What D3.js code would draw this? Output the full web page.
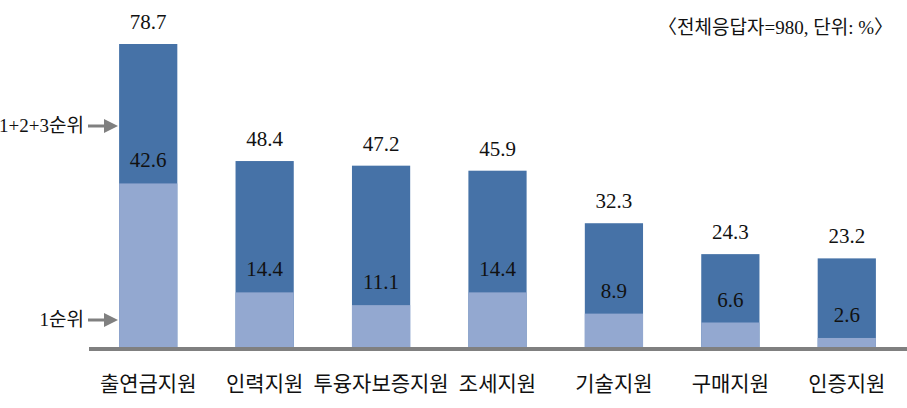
<!DOCTYPE html>
<html>
<head>
<meta charset="utf-8">
<script src="https://cdn.jsdelivr.net/npm/d3@7"></script>
<style>
  body { margin: 0; background: #fff; }
  svg { display: block; }
  .val { font-family: "Liberation Serif", "DejaVu Serif", serif; font-size: 21px; fill: #111; }
  .cat { font-family: "Noto Sans CJK KR", sans-serif; font-size: 21px; fill: #111; }
  .note { font-family: "Liberation Serif", "Noto Sans CJK KR", serif; font-size: 19px; fill: #111; }
</style>
</head>
<body>
<svg id="chart" width="907" height="408"></svg>
<script>
const categories = ['출연금지원', '인력지원', '투융자보증지원', '조세지원', '기술지원', '구매지원', '인증지원'];
const totalRank = [78.7, 48.4, 47.2, 45.9, 32.3, 24.3, 23.2];   // 1+2+3순위
const firstRank = [42.6, 14.4, 11.1, 14.4, 8.9, 6.6, 2.6];       // 1순위
const seriesLabels = ['1+2+3순위', '1순위'];

const svg = d3.select('#chart');
const baseY = 348;

const x = d3.scaleBand()
  .domain(categories)
  .range([90, 905])
  .paddingInner(0.5)
  .paddingOuter(0.25);

const y = d3.scaleLinear()
  .domain([0, 78.7])
  .range([baseY, 44]);

const rows = categories.map((c, i) => ({ cat: c, total: totalRank[i], first: firstRank[i] }));

const bars = svg.append('g')
  .selectAll('g')
  .data(rows)
  .enter()
  .append('g');

bars.append('rect')
  .attr('x', d => x(d.cat))
  .attr('y', d => y(d.total))
  .attr('width', x.bandwidth())
  .attr('height', d => baseY - y(d.total))
  .attr('fill', '#4672A7');

bars.append('rect')
  .attr('x', d => x(d.cat))
  .attr('y', d => y(d.first))
  .attr('width', x.bandwidth())
  .attr('height', d => baseY - y(d.first))
  .attr('fill', '#93A8D0');

bars.append('text')
  .attr('class', 'val')
  .attr('text-anchor', 'middle')
  .attr('x', d => x(d.cat) + x.bandwidth() / 2)
  .attr('y', d => y(d.total) - 15)
  .text(d => d.total.toFixed(1));

bars.append('text')
  .attr('class', 'val')
  .attr('text-anchor', 'middle')
  .attr('x', d => x(d.cat) + x.bandwidth() / 2)
  .attr('y', d => y(d.first) - 16)
  .text(d => d.first.toFixed(1));

// baseline
svg.append('line')
  .attr('x1', 89).attr('x2', 907)
  .attr('y1', baseY + 1).attr('y2', baseY + 1)
  .attr('stroke', '#808080')
  .attr('stroke-width', 4);

// category labels
svg.append('g')
  .selectAll('text')
  .data(categories)
  .enter()
  .append('text')
  .attr('class', 'cat')
  .attr('text-anchor', 'middle')
  .attr('x', d => x(d) + x.bandwidth() / 2)
  .attr('y', 391)
  .text(d => d);

// left annotations with arrows
const notes = [
  { label: seriesLabels[0], y: 126 },
  { label: seriesLabels[1], y: 320 }
];

const noteG = svg.append('g')
  .selectAll('g')
  .data(notes)
  .enter()
  .append('g');

noteG.append('text')
  .attr('class', 'note')
  .attr('text-anchor', 'end')
  .attr('x', 84)
  .attr('y', d => d.y + 6)
  .text(d => d.label);

noteG.append('line')
  .attr('x1', 88).attr('x2', 106)
  .attr('y1', d => d.y).attr('y2', d => d.y)
  .attr('stroke', '#808080')
  .attr('stroke-width', 3);

noteG.append('path')
  .attr('d', d => `M104,${d.y - 7} L118,${d.y} L104,${d.y + 7} Z`)
  .attr('fill', '#808080');

svg.append('text')
  .attr('class', 'note')
  .attr('text-anchor', 'end')
  .attr('x', 893)
  .attr('y', 34)
  .text('〈전체응답자=980, 단위: %〉');
</script>
</body>
</html>
